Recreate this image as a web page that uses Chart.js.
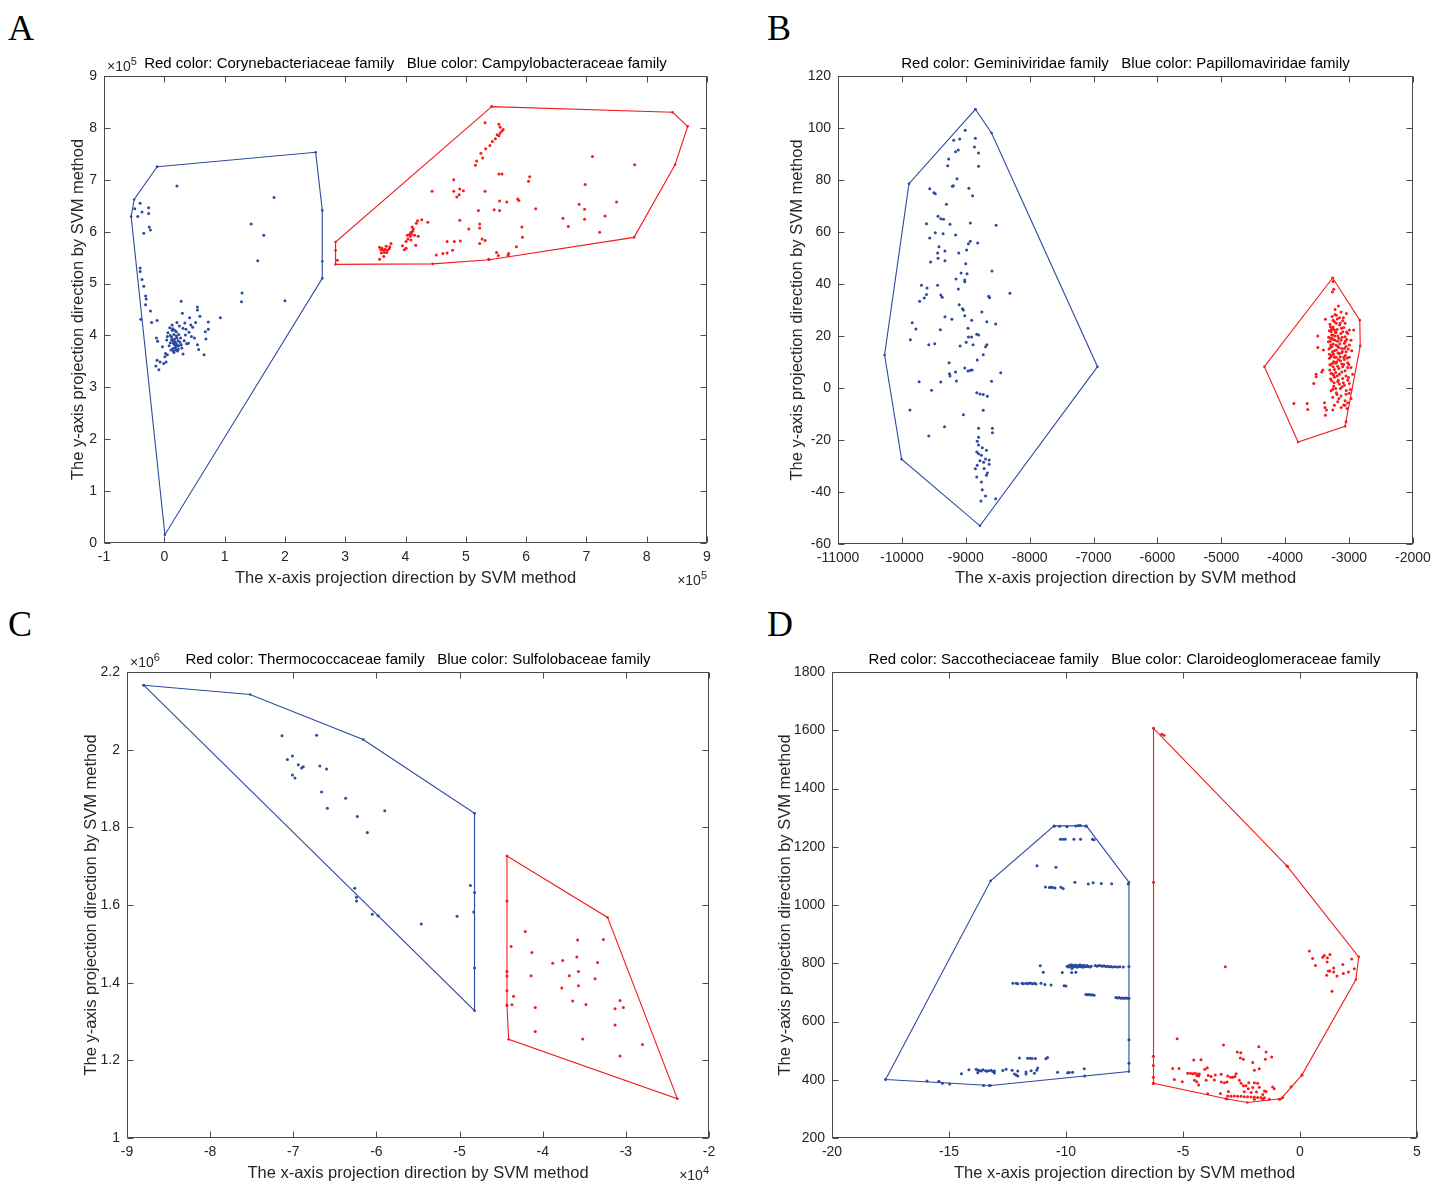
<!DOCTYPE html>
<html><head><meta charset="utf-8">
<script src="https://cdn.jsdelivr.net/npm/chart.js@4.4.1/dist/chart.umd.min.js"></script>
<style>
html,body{margin:0;padding:0;background:#fff;}
#wrap{position:relative;width:1446px;height:1183px;overflow:hidden;background:#fff;}
canvas{position:absolute;}
.lbl{position:absolute;font-family:'Liberation Serif','Times New Roman',serif;font-size:36px;line-height:36px;color:#000;}
</style></head><body>
<div id="wrap">
<div class="lbl" style="left:8px;top:10px">A</div>
<div class="lbl" style="left:767px;top:10px">B</div>
<div class="lbl" style="left:8px;top:606px">C</div>
<div class="lbl" style="left:767px;top:606px">D</div>
<canvas id="cA" width="723" height="591" style="left:0;top:0"></canvas>
<canvas id="cB" width="723" height="591" style="left:723px;top:0"></canvas>
<canvas id="cC" width="723" height="592" style="left:0;top:591px"></canvas>
<canvas id="cD" width="723" height="592" style="left:723px;top:591px"></canvas>
</div>
<script>
// ---------------- DATA ----------------
// Panel A (x in units of 1e5, y in units of 1e5)
const A_TITLE = "Red color: Corynebacteriaceae family   Blue color: Campylobacteraceae family";
const A_BLUE_HULL = [[-0.12,7.25],[2.51,7.53],[2.62,6.41],[2.62,5.43],[2.62,5.10],[0.01,0.16],[-0.55,6.29],[-0.50,6.62],[-0.12,7.25]];
const A_RED_HULL = [[5.43,8.41],[8.43,8.30],[8.68,8.03],[8.47,7.29],[7.79,5.89],[5.39,5.46],[4.45,5.38],[2.84,5.37],[2.84,5.64],[2.84,5.80],[5.43,8.41]];
const A_BLUE_PTS = [
[0.21,6.88],[-0.40,6.55],[-0.26,6.46],[-0.49,6.44],[-0.37,6.38],[-0.26,6.35],[-0.44,6.29],[-0.25,6.09],[-0.23,6.03],[-0.34,5.97],
[1.82,6.66],[1.44,6.15],[1.65,5.93],[1.55,5.44],[1.29,4.82],[1.28,4.65],[2.0,4.67],[0.93,4.34],
[-0.40,5.30],[-0.40,5.23],[-0.37,5.08],[-0.34,4.95],[-0.31,4.76],[-0.30,4.70],[-0.31,4.59],[-0.23,4.47],[-0.39,4.31],[-0.21,4.25],[-0.12,4.29],
[0.28,4.66],[0.55,4.55],[0.55,4.49],[0.42,4.34],[0.59,4.37],[0.30,4.43],[0.21,4.25],[0.52,4.25],[0.73,4.26],[0.73,4.12],[0.47,4.16],
[0.68,4.07],[0.69,3.93],[0.55,3.82],[0.57,3.73],[0.66,3.63],[0.35,4.01],[0.37,3.84],[0.29,3.76],[-0.13,3.95],[-0.11,3.89],
[-0.03,3.78],[0.02,3.65],[0.01,3.59],[-0.12,3.52],[-0.07,3.49],[-0.14,3.41],[-0.09,3.34],[0.03,3.49],[-0.01,3.46],[0.13,4.20],
[0.13,4.10],[0.10,4.00],[0.17,3.93],[0.20,3.84],[0.18,3.76],[0.15,3.70],[0.23,3.90],[0.24,3.80],[0.10,3.86],[0.06,4.05],
[0.20,4.07],[0.27,3.95],[0.31,4.14],[0.14,4.13],[0.17,3.82],[0.14,3.75],[0.19,3.72],[0.24,4.02],[0.12,3.97],[0.14,3.90],
[0.22,3.80],[0.08,3.80],[0.04,3.91],[0.31,3.64],[0.05,3.63],[0.41,4.06],[0.45,3.98],[0.34,4.24],[0.16,4.02],[0.18,3.88],
[0.21,3.95],[0.15,3.85],[0.19,3.78],[0.22,3.70],[0.12,3.92],[0.26,3.87],[0.17,4.10],[0.25,4.18],[0.11,3.72],[0.28,3.82],
[0.16,3.67],[0.20,3.99],[0.09,4.15],[0.33,3.90],[0.36,4.12],[0.40,3.85],[0.44,4.20],[0.50,3.95],[0.05,3.98],[0.23,3.74]];
const A_RED_PTS = [
[5.32,8.10],[5.55,8.07],[5.57,8.01],[5.62,7.97],[5.60,7.94],[5.57,7.90],[5.52,7.87],[5.55,7.85],[5.49,7.79],[5.44,7.74],
[5.40,7.66],[5.33,7.60],[5.25,7.51],[5.28,7.42],[5.18,7.36],[5.16,7.28],[5.55,7.11],[5.60,7.11],
[7.10,7.45],[7.80,7.29],[6.06,7.06],[6.04,6.97],[4.80,7.00],[4.44,6.78],[4.80,6.78],[4.90,6.82],[4.96,6.79],[4.89,6.71],
[5.32,6.78],[6.98,6.91],[4.85,6.67],[5.86,6.63],[5.88,6.60],[5.56,6.59],[5.68,6.57],[6.16,6.44],[6.88,6.53],[6.97,6.43],
[7.50,6.57],[5.47,6.42],[5.56,6.41],[5.21,6.41],[7.31,6.30],[6.97,6.24],[6.61,6.26],[4.90,6.22],[5.23,6.15],[5.23,6.07],
[5.93,6.09],[6.70,6.10],[5.05,6.05],[7.22,5.99],[5.94,5.89],[4.69,5.81],[4.81,5.81],[4.91,5.82],[5.27,5.86],[5.32,5.83],
[5.23,5.77],[5.84,5.71],[4.78,5.64],[4.69,5.59],[4.62,5.58],[4.51,5.55],[5.51,5.60],[5.54,5.54],[5.71,5.58],[5.70,5.54],
[5.38,5.47],[2.87,5.45],
[3.57,5.70],[3.61,5.68],[3.66,5.66],[3.70,5.64],[3.65,5.60],[3.69,5.60],[3.73,5.67],[3.76,5.77],[3.60,5.59],[3.57,5.47],
[3.64,5.52],[3.74,5.71],[3.63,5.64],[3.68,5.72],[3.59,5.65],
[3.95,5.73],[4.01,5.68],[3.98,5.65],[4.01,5.81],[4.04,5.86],[4.08,5.91],[4.10,5.95],[4.09,5.99],[4.12,6.01],[4.11,6.09],
[4.15,5.93],[4.17,5.74],[4.18,6.16],[4.20,6.21],[4.27,6.23],[4.37,6.18],[4.21,5.91],[4.03,5.93],[4.07,5.95],[4.09,5.84],[4.13,6.05]];

// Panel B
const B_TITLE = "Red color: Geminiviridae family   Blue color: Papillomaviridae family";
const B_BLUE_HULL = [[-8850,107.2],[-8597,98.1],[-6938,8.2],[-8778,-53],[-10004,-27.4],[-10271,12.7],[-9889,78.6],[-8850,107.2]];
const B_RED_HULL = [[-3258,42.3],[-2833,26.1],[-2826,16.2],[-3063,-14.7],[-3799,-20.8],[-4326,8.2],[-3258,42.3]];
const B_BLUE_PTS = [
[-9009,99.1],[-8850,96.1],[-9189,95.3],[-9095,95.8],[-8864,92.7],[-8800,90.4],[-9117,91.5],[-9160,90.9],[-9268,88.1],[-9283,85.5],
[-8800,85.3],[-9138,80.5],[-9196,77.8],[-9210,77.6],[-8951,76.8],[-9564,76.6],[-9499,75.1],[-9477,74.7],[-8893,73.9],[-9304,70.7],
[-9434,66.1],[-9391,65.1],[-9348,64.9],[-9615,63.2],[-9247,63.0],[-8929,63.5],[-8525,62.6],[-9477,59.7],[-9355,59.3],[-9160,58.8],
[-9564,57.7],[-8814,55.8],[-8929,56.4],[-8958,55.5],[-9420,54.3],[-9326,52.7],[-9110,51.9],[-8987,53.1],[-9441,51.9],[-9434,49.9],
[-9326,48.9],[-9550,48.5],[-9001,47.8],[-8590,45.0],[-9074,44.2],[-8980,43.9],[-9016,41.5],[-9016,40.9],[-9153,41.9],[-9441,39.5],
[-9694,39.5],[-9607,38.5],[-9117,38.1],[-9650,34.6],[-9722,33.4],[-9615,36.0],[-9391,35.8],[-9369,34.9],[-8641,35.3],[-8627,34.7],
[-8309,36.4],[-9103,32.0],[-9052,30.5],[-9038,30.0],[-9016,27.8],[-8749,29.2],[-9326,27.4],[-9218,26.4],[-8908,26.1],[-8670,25.5],
[-8532,24.6],[-9838,25.1],[-9781,22.7],[-8965,23.0],[-9398,22.4],[-8828,20.7],[-8800,20.4],[-8958,19.6],[-8908,19.6],[-9867,18.6],
[-8994,17.6],[-9579,16.6],[-9485,17.0],[-8886,16.6],[-8670,16.6],[-9088,16.2],[-8691,15.9],[-8727,12.8],[-9261,9.7],[-8821,10.8],
[-9730,2.4],[-9391,2.3],[-9146,2.7],[-8597,2.6],[-9254,5.5],[-9247,4.6],[-9160,6.2],[-9016,7.7],[-8965,6.5],[-8900,6.9],
[-8453,5.9],[-8929,6.8],[-9535,-0.9],[-8828,-1.8],[-8778,-2.3],[-8727,-2.5],[-8662,-3.2],[-9874,-8.5],[-8727,-8.6],[-9038,-10.3],
[-9333,-14.9],[-8800,-15.5],[-8583,-15.5],[-8583,-17.2],[-9579,-18.5],[-8800,-18.9],[-8821,-20.5],[-8800,-21.9],[-8742,-23.0],[-8828,-24.6],
[-8800,-25.3],[-8677,-23.9],[-8756,-25.9],[-8691,-27.3],[-8634,-27.7],[-8778,-28.0],[-8720,-28.6],[-8821,-29.7],[-8634,-29.3],[-8713,-31.0],
[-8850,-31.1],[-8662,-32.7],[-8677,-33.6],[-8828,-34.2],[-8756,-36.2],[-8742,-39.1],[-8691,-41.5],[-8763,-43.5],[-8532,-42.6]];
const B_RED_PTS = [
[-3251,41.0],[-3240,38.0],[-3261,36.9],[-3167,31.5],[-3220,30.2],[-3126,29.2],[-3220,28.3],[-3043,28.7],[-3371,26.4],[-3251,26.1],
[-3100,25.9],[-3063,24.9],[-3292,23.6],[-3256,22.9],[-3230,22.3],[-3188,22.5],[-2996,22.3],[-2928,22.3],[-3282,21.6],[-3204,21.3],
[-3100,21.6],[-3022,21.0],[-3256,20.4],[-3178,20.0],[-3490,20.0],[-3063,19.7],[-3292,19.1],[-3220,18.4],[-3126,18.4],[-2970,18.4],
[-3074,17.2],[-3251,16.9],[-2996,16.5],[-3178,16.1],[-3292,15.6],[-3490,15.6],[-3115,15.2],[-3402,14.6],[-3230,14.3],[-3048,13.9],
[-2959,14.3],[-3152,13.3],[-3272,12.7],[-3204,11.8],[-3084,11.8],[-2996,11.8],[-3308,11.4],[-3136,10.5],[-3241,10.1],[-3022,9.7],
[-3292,8.8],[-3178,8.4],[-3100,8.2],[-2970,7.9],[-3230,7.1],[-3412,6.9],[-3428,6.2],[-3063,6.6],[-3282,5.6],[-3152,5.3],
[-2944,5.3],[-3516,5.3],[-3516,4.3],[-3230,4.1],[-3100,3.7],[-3272,2.8],[-3178,2.4],[-3553,1.7],[-2996,1.7],[-3074,1.1],
[-3241,0.7],[-3136,-0.2],[-2980,-0.6],[-3282,-1.1],[-3199,-1.8],[-3048,-2.4],[-3126,-3.1],[-3256,-3.6],[-2970,-4.0],[-3063,-4.9],
[-3178,-5.3],[-3022,-5.7],[-3865,-6.0],[-3657,-6.0],[-3386,-5.7],[-3230,-6.6],[-3063,-6.6],[-3376,-7.5],[-3647,-8.3],[-3032,-7.9],
[-3355,-8.5],[-3256,-8.5],[-3371,-10.5],[-3048,-13.0],[-3324,17.8],[-3199,14.6],[-3272,20.4],[-3147,24.2],[-3199,24.9],[-3084,23.3],
[-3261,13.9],[-3115,13.6],[-3308,13.0],[-3209,9.5],[-3115,9.2],[-3188,4.6],[-3303,6.9],[-3048,4.6],[-3152,1.5],[-3215,21.3],
[-3277,22.5],[-3162,19.1],[-3246,18.7],[-3037,18.7],[-3287,16.5],[-3162,15.6],[-3074,15.2],[-3230,11.8],[-3167,11.0],[-3074,11.0],
[-3251,8.2],[-3022,7.9],[-3115,6.2],[-3241,5.0],[-3022,3.0],[-3209,-0.2],[-3300,24.5],[-3268,19.0],[-3285,12.0],[-3150,27.0],
[-3205,16.5],[-3140,12.0],[-3180,18.0],[-3260,9.5],[-3110,19.5],[-3050,16.0],[-3230,25.5],[-3290,3.5],[-3160,7.5],[-3090,2.0],
[-3310,22.0],[-3295,18.0],[-3270,16.0],[-3245,13.0],[-3225,20.0],[-3195,10.0],[-3175,13.5],[-3145,17.0],[-3130,21.0],[-3105,14.0],
[-3085,9.0],[-3060,12.5],[-3040,21.5],[-3015,15.0],[-3005,9.0],[-3315,15.0],[-3300,9.0],[-3265,5.5],[-3235,2.0],[-3210,6.0],
[-3190,-2.5],[-3160,-4.0],[-3110,0.5],[-3085,-6.5],[-3045,-1.0],[-3010,4.0],[-3265,27.5],[-3200,28.0],[-3140,25.0],[-3090,27.0],
[-3320,19.5],[-3250,23.5],[-3185,26.5],[-3120,23.0],[-3060,18.0],[-3030,11.5],[-3170,3.0],[-3255,-0.5],[-3125,-7.5],[-3000,-2.0]];

// Panel C (x in units of 1e4, y in units of 1e6)
const C_TITLE = "Red color: Thermococcaceae family   Blue color: Sulfolobaceae family";
const C_BLUE_HULL = [[-8.80,2.166],[-7.52,2.142],[-6.16,2.026],[-4.82,1.836],[-4.82,1.328],[-8.80,2.166]];
const C_RED_HULL = [[-4.43,1.726],[-3.22,1.568],[-2.38,1.101],[-4.41,1.254],[-4.43,1.343],[-4.43,1.726]];
const C_BLUE_PTS = [
[-7.135,2.036],[-6.72,2.037],[-7.01,1.984],[-7.07,1.975],[-6.94,1.961],[-6.88,1.956],[-6.90,1.953],[-6.68,1.958],[-6.60,1.950],[-7.01,1.935],
[-6.98,1.927],[-6.66,1.891],[-6.37,1.875],[-6.59,1.849],[-5.90,1.843],[-6.23,1.828],[-6.11,1.787],[-6.26,1.643],[-6.24,1.620],[-6.24,1.610],
[-6.05,1.576],[-5.98,1.572],[-5.46,1.551],[-5.03,1.571],[-4.87,1.650],[-4.82,1.632],[-4.83,1.582],[-4.82,1.438]];
const C_RED_PTS = [
[-4.43,1.610],[-4.21,1.532],[-4.38,1.493],[-4.13,1.478],[-4.43,1.429],[-4.43,1.417],[-4.14,1.418],[-4.43,1.379],[-4.35,1.365],[-4.43,1.341],
[-4.37,1.343],[-4.09,1.336],[-4.09,1.274],[-3.88,1.450],[-3.76,1.457],[-3.59,1.466],[-3.58,1.510],[-3.27,1.511],[-3.34,1.452],[-3.57,1.429],
[-3.68,1.418],[-3.37,1.410],[-3.57,1.392],[-3.77,1.386],[-3.64,1.353],[-3.48,1.344],[-3.07,1.354],[-3.03,1.336],[-3.13,1.333],[-3.13,1.291],
[-3.52,1.255],[-2.80,1.241],[-3.07,1.211]];

// Panel D
const D_TITLE = "Red color: Saccotheciaceae family   Blue color: Claroideoglomeraceae family";
const D_BLUE_HULL = [[-17.71,400.6],[-13.22,380.4],[-7.31,428],[-7.31,1078.3],[-9.13,1271.8],[-10.51,1271.8],[-13.22,1083],[-17.71,400.6]];
const D_RED_HULL = [[-6.26,1606.5],[-0.57,1135],[2.51,822],[2.39,744],[0.08,416],[-0.81,335],[-2.25,322],[-3.10,334],[-6.26,387.5],[-6.26,1606.5]];
const D_BLUE_PTS = [
[-10.50,1270],[-10.27,1270],[-9.96,1269],[-9.58,1271],[-9.47,1273],[-9.39,1273],[-9.15,1270],
[-10.24,1226],[-10.14,1226],[-10.03,1226],[-9.66,1226],[-9.38,1226],[-8.87,1226],[-8.80,1224],
[-11.24,1135],[-10.43,1130],
[-10.88,1062],[-10.71,1060],[-10.64,1061],[-10.57,1060],[-10.47,1058],[-10.22,1061],[-10.12,1057],
[-9.62,1078],[-9.05,1072],[-8.84,1076],[-8.49,1074],[-8.05,1073],[-7.34,1072],
[-11.10,791],[-10.97,769],[-10.16,768],[-9.76,768],[-9.58,769],[-9.75,782],
[-9.95,790],[-9.90,787],[-9.85,793],[-9.80,789],[-9.76,795],[-9.72,786],[-9.68,791],[-9.64,788],[-9.60,794],[-9.56,790],
[-9.52,786],[-9.48,792],[-9.44,789],[-9.40,795],[-9.36,788],[-9.32,791],[-9.28,786],[-9.24,793],[-9.20,790],[-9.15,788],
[-9.10,792],[-9.05,789],[-8.98,787],[-8.92,790],[-8.75,792],[-8.68,790],[-8.60,792],[-8.52,791],[-8.45,790],[-8.38,791],
[-8.30,789],[-8.22,790],[-8.15,788],[-8.08,789],[-8.00,787],[-7.90,788],[-7.80,787],[-7.70,788],[-7.55,787],[-7.31,789],
[-12.27,731],[-12.13,731],[-12.06,730],[-11.88,731],[-11.82,730],[-11.71,731],[-11.64,730],[-11.57,732],[-11.50,731],[-11.42,730],
[-11.34,731],[-11.28,729],[-11.07,731],[-10.90,727],[-10.64,725],[-10.08,723],[-10.00,722],
[-9.15,693],[-9.08,692],[-9.01,693],[-8.94,691],[-8.87,692],[-8.80,690],
[-7.87,682],[-7.80,681],[-7.73,682],[-7.66,680],[-7.59,681],[-7.52,680],[-7.45,681],[-7.38,680],[-7.31,680],
[-7.31,537],[-7.31,457],
[-11.99,475],[-11.64,474],[-11.54,474],[-11.45,473],[-11.31,473],[-10.86,472],[-10.79,476],
[-14.15,434],[-13.84,436],[-13.77,433],[-13.70,432],[-13.62,430],[-13.55,434],[-13.44,431],[-13.38,429],[-13.30,431],[-13.20,433],
[-13.13,428],[-13.06,430],[-12.70,432],[-12.56,436],[-12.30,433],[-12.06,430],[-11.71,427],[-11.49,431],[-11.25,433],[-11.21,440],
[-14.47,421],[-13.77,424],[-13.06,423],[-12.20,420],[-12.13,416],[-12.06,413],[-11.71,420],[-11.35,422],[-10.36,426],[-9.93,424],
[-9.86,425],[-9.72,426],[-9.22,438],[-9.20,413],
[-15.94,396],[-15.43,395],[-15.28,388],[-14.97,385],[-13.52,380],[-13.27,380]];
const D_RED_PTS = [
[0.40,842],[0.54,816],[0.97,821],[1.04,827],[1.17,819],[1.28,830],[1.16,804],[0.66,792],[1.21,773],[1.28,773],
[1.44,784],[1.44,770],[1.14,759],[1.58,756],[1.83,796],[1.85,765],[2.07,770],[2.21,815],[2.32,781],[1.37,704],
[-3.19,788],[-5.91,1586],[-5.81,1583],[-0.53,1132],[-6.26,1078],
[-5.25,541],[-3.27,519],[-2.68,495],[-2.53,493],[-1.76,513],[-1.45,495],[-1.21,478],[-1.48,470],[-2.55,475],[-2.42,470],
[-4.54,468],[-4.23,469],[-2.02,459],[-1.74,438],[-1.95,433],[-5.44,439],[-5.17,439],[-4.07,436],[-3.96,441],
[-4.80,422],[-4.68,422],[-4.58,421],[-4.48,422],[-4.37,420],[-4.30,420],[-4.41,415],[-4.33,413],
[-5.37,401],[-5.03,393],[-4.51,398],[-4.41,393],[-4.33,382],[-4.01,398],[-3.92,415],[-3.80,411],[-3.62,416],[-3.66,399],
[-3.37,419],[-3.36,392],[-3.23,390],[-3.12,392],[-3.09,413],[-2.97,409],[-2.88,409],[-2.73,421],[-2.78,411],[-2.59,398],
[-2.52,388],[-2.42,379],[-2.31,379],[-2.19,390],[-1.95,390],[-1.81,388],[-3.06,360],[-3.40,353],[-3.94,352],[-2.38,359],
[-2.21,369],[-2.09,356],[-1.86,358],[-1.74,374],[-2.02,373],[-1.59,349],[-1.52,361],[-1.45,360],[-1.17,375],[-1.10,369],
[-3.09,344],[-2.95,343],[-2.81,344],[-2.67,343],[-2.52,343],[-2.38,342],[-2.24,342],[-2.09,341],[-1.95,341],[-1.81,339],
[-1.67,339],[-1.52,338],[-3.16,335],[-1.95,333],[-1.59,333],[-1.31,333],[-0.88,333],[-0.74,339],[-0.38,376],[0.09,416],
[-6.27,481],[-6.27,449],[-6.27,409],[-6.27,388]];

// ---------------- LAYOUT / STYLE ----------------
const BLUE = '#2b4aa0', RED = '#f41c1c';
const AXIS_COL = '#4a4a4a', TXT = '#262626';
const FONT = "'Liberation Sans', Arial, Helvetica, sans-serif";
const X_TITLE = 'The x-axis projection direction by SVM method';
const Y_TITLE = 'The y-axis projection direction by SVM method';

const panels = [
  {id:'cA', w:723, h:591, l:104, r:707, t:76, b:543, xr:[-1,9,1], yr:[0,9,1], title:A_TITLE, yTitleX:78, xTitleY:578,
   blueHull:A_BLUE_HULL, redHull:A_RED_HULL, bluePts:A_BLUE_PTS, redPts:A_RED_PTS, expTop:'5', expBottom:'5'},
  {id:'cB', w:723, h:591, l:115, r:690, t:76, b:544, xr:[-11000,-2000,1000], yr:[-60,120,20], title:B_TITLE, yTitleX:74, xTitleY:578,
   blueHull:B_BLUE_HULL, redHull:B_RED_HULL, bluePts:B_BLUE_PTS, redPts:B_RED_PTS},
  {id:'cC', w:723, h:592, l:127, r:709, t:81, b:547, xr:[-9,-2,1], yr:[1,2.2,0.2], title:C_TITLE, yTitleX:91, xTitleY:582,
   blueHull:C_BLUE_HULL, redHull:C_RED_HULL, bluePts:C_BLUE_PTS, redPts:C_RED_PTS, expTop:'6', expBottom:'4'},
  {id:'cD', w:723, h:592, l:109, r:694, t:81, b:547, xr:[-20,5,5], yr:[200,1800,200], title:D_TITLE, yTitleX:62, xTitleY:582,
   blueHull:D_BLUE_HULL, redHull:D_RED_HULL, bluePts:D_BLUE_PTS, redPts:D_RED_PTS}
];

const toXY = arr => arr.map(p => ({x:p[0], y:p[1]}));
const fmt = v => String(Math.round(v*1000)/1000);

function drawExp(ctx, xRight, yBase, exp, alignLeft) {
  ctx.font = '14px ' + FONT;
  const base = '\u00d710';
  const wb = ctx.measureText(base).width;
  ctx.font = '11px ' + FONT;
  const we = ctx.measureText(exp).width;
  const x0 = alignLeft ? xRight : xRight - wb - we;
  ctx.fillStyle = TXT;
  ctx.textAlign = 'left'; ctx.textBaseline = 'alphabetic';
  ctx.font = '14px ' + FONT;
  ctx.fillText(base, x0, yBase);
  ctx.font = '11px ' + FONT;
  ctx.fillText(exp, x0 + wb, yBase - 6);
}

const boxPlugin = {
  id: 'matlabBox',
  afterDraw(chart) {
    const cfg = chart.options.plugins.matlabBox;
    const {ctx, chartArea:a} = chart;
    const xs = chart.scales.x, ys = chart.scales.y;
    ctx.save();
    ctx.strokeStyle = AXIS_COL; ctx.lineWidth = 1;
    const L = Math.round(a.left)+0.5, R = Math.round(a.right)-0.5, T = Math.round(a.top)+0.5, B = Math.round(a.bottom)-0.5;
    ctx.strokeRect(L, T, R-L, B-T);
    ctx.beginPath();
    xs.ticks.forEach(t => {
      const px = Math.round(xs.getPixelForValue(t.value))+0.5;
      ctx.moveTo(px, B); ctx.lineTo(px, B-6);
      ctx.moveTo(px, T); ctx.lineTo(px, T+6);
    });
    ys.ticks.forEach(t => {
      const py = Math.round(ys.getPixelForValue(t.value))+0.5;
      ctx.moveTo(L, py); ctx.lineTo(L+6, py);
      ctx.moveTo(R, py); ctx.lineTo(R-6, py);
    });
    ctx.stroke();
    // title
    ctx.fillStyle = '#000';
    ctx.font = '15px ' + FONT;
    ctx.textAlign = 'center'; ctx.textBaseline = 'middle';
    ctx.fillText(cfg.title, (a.left+a.right)/2, a.top - 12);
    if (cfg.expTop) drawExp(ctx, a.left + 3, a.top - 5, cfg.expTop, true);
    if (cfg.expBottom) drawExp(ctx, a.right, a.bottom + 42, cfg.expBottom, false);
    ctx.restore();
  }
};

panels.forEach(p => {
  const line = (data, color) => ({type:'scatter', data:toXY(data), showLine:true, borderColor:color, borderWidth:1.1,
    pointRadius:1.3, pointBackgroundColor:color, pointBorderWidth:0, backgroundColor:color, fill:false, tension:0});
  const dots = (data, color) => ({type:'scatter', data:toXY(data), showLine:false, pointRadius:1.5,
    pointBackgroundColor:color, pointBorderWidth:0, backgroundColor:color});
  new Chart(document.getElementById(p.id), {
    type:'scatter',
    data:{datasets:[line(p.blueHull, BLUE), dots(p.bluePts, BLUE), line(p.redHull, RED), dots(p.redPts, RED)]},
    plugins:[boxPlugin],
    options:{
      responsive:false, animation:false, devicePixelRatio:1,
      layout:{padding:{top:p.t, right:p.w - p.r, left:0, bottom:0}},
      plugins:{legend:{display:false}, tooltip:{enabled:false}, title:{display:false},
        matlabBox:{title:p.title, expTop:p.expTop, expBottom:p.expBottom}},
      scales:{
        x:{type:'linear', min:p.xr[0], max:p.xr[1],
          ticks:{stepSize:p.xr[2], callback:v=>fmt(v), font:{family:FONT, size:14}, color:TXT, padding:6, maxRotation:0, autoSkip:false},
          grid:{display:false, drawTicks:false}, border:{display:false},
          title:{display:true, text:X_TITLE, font:{family:FONT, size:16.5}, color:TXT, padding:{top:0, bottom: (p.h - p.xTitleY) - 9.9}},
          afterFit(s){ s.height = p.h - p.b; }
        },
        y:{type:'linear', min:p.yr[0], max:p.yr[1],
          ticks:{stepSize:p.yr[2], callback:v=>fmt(v), font:{family:FONT, size:14}, color:TXT, padding:7, autoSkip:false},
          grid:{display:false, drawTicks:false}, border:{display:false},
          title:{display:true, text:Y_TITLE, font:{family:FONT, size:16.5}, color:TXT, padding:{top: p.yTitleX - 9.9, bottom:0}},
          afterFit(s){ s.width = p.l; }
        }
      }
    }
  });
});
</script>
</body></html>
